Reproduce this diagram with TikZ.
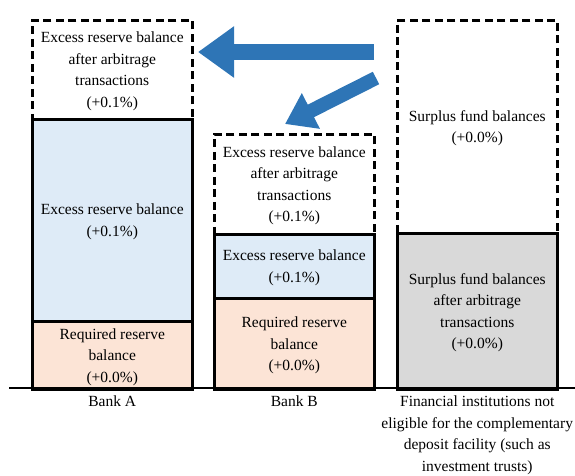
\documentclass[tikz,border=0pt]{standalone}
\usepackage{fontspec}
\setmainfont{Liberation Serif}
\usetikzlibrary{arrows.meta}

\definecolor{flowblue}{RGB}{46,117,182}
\definecolor{excessfill}{RGB}{222,235,247}
\definecolor{requiredfill}{RGB}{252,228,214}
\definecolor{surplusfill}{RGB}{217,217,217}

\begin{document}
\begin{tikzpicture}[x=1pt, y=-1pt,
  every node/.style={font=\fontsize{15.5}{21.5}\selectfont, align=center, inner sep=0pt},
  balance/.style={draw=black, line width=2.5pt, minimum width=160pt, anchor=north west,
    text depth=-3pt},
  planned/.style={balance, dash pattern=on 8pt off 4.5pt},
  caption/.style={anchor=north, font=\fontsize{15.5}{21.4}\selectfont},
  flow/.style={draw=flowblue, line width=#1}
]
\useasboundingbox (0,0) rectangle (575,475);

% Bank A
\node[planned, minimum height=99pt] (aafter) at (31,19)
  {Excess reserve balance\\after arbitrage\\transactions\\(+0.1\%)};
\node[balance, fill=excessfill, minimum height=202pt] (aexcess) at (31,118)
  {Excess reserve balance\\(+0.1\%)};
\node[balance, fill=requiredfill, minimum height=68pt] (arequired) at (31,320)
  {Required reserve\\balance\\(+0.0\%)};

% Bank B
\node[planned, minimum height=100pt] (bafter) at (213,133)
  {Excess reserve balance\\after arbitrage\\transactions\\(+0.1\%)};
\node[balance, fill=excessfill, minimum height=64pt] (bexcess) at (213,233)
  {Excess reserve balance\\(+0.1\%)};
\node[balance, fill=requiredfill, minimum height=91pt] (brequired) at (213,297)
  {Required reserve\\balance\\(+0.0\%)};

% Institutions outside the complementary deposit facility
\node[planned, minimum height=213pt] (csurplus) at (396,19)
  {Surplus fund balances\\(+0.0\%)};
\node[balance, fill=surplusfill, minimum height=156pt] (cafter) at (396,232)
  {Surplus fund balances\\after arbitrage\\transactions\\(+0.0\%)};

% Ground line
\coordinate (gleft) at (9,388);
\coordinate (gright) at (575,388);
\draw[line width=2.7pt] (gleft) -- (gright);

% Captions
\node[caption] (alabel) at (arequired.center |- 0,396) {Bank A};
\node[caption] (blabel) at (brequired.center |- 0,396) {Bank B};
\node[caption] (clabel) at (cafter.center |- 0,396)
  {Financial institutions not\\eligible for the complementary\\deposit facility (such as\\investment trusts)};

% Fund flows
\coordinate (flowAstart) at (374,52);
\coordinate (flowAend) at (198,52);
\coordinate (flowBstart) at (376,78);
\coordinate (flowBend) at (285,124);
\draw[flow=16pt, -{Triangle[length=36pt, width=49pt, fill=flowblue]}] (flowAstart) -- (flowAend);
\draw[flow=14pt, -{Triangle[length=29pt, width=38pt, fill=flowblue]}] (flowBstart) -- (flowBend);
\end{tikzpicture}
\end{document}
